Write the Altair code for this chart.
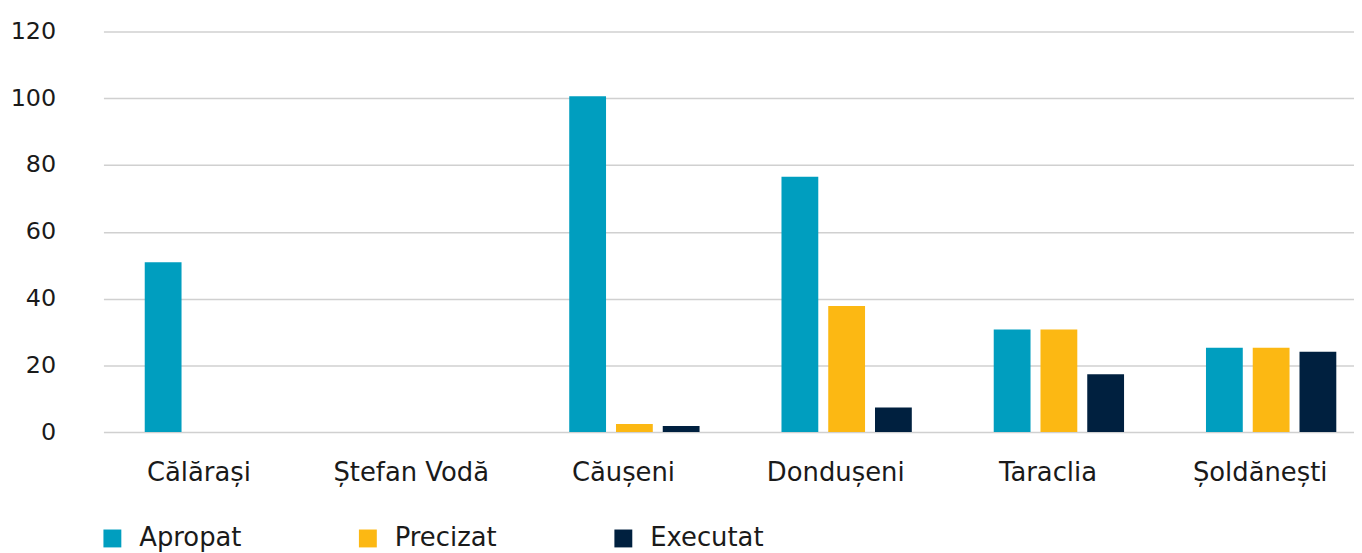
import altair as alt
import pandas as pd

categories = ["Călărași", "Ștefan Vodă", "Căușeni", "Dondușeni", "Taraclia", "Șoldănești"]
series = ["Apropat", "Precizat", "Executat"]
apropat = [50.9, 0, 100.6, 76.5, 30.7, 25.3]
precizat = [0, 0, 2.4, 37.8, 30.7, 25.3]
executat = [0, 0, 1.8, 7.4, 17.3, 24.1]
colors = ["#009EBF", "#FCB813", "#00203F"]
y_ticks = [0, 20, 40, 60, 80, 100, 120]

rows = []
for name, vals in zip(series, [apropat, precizat, executat]):
    for c, v in zip(categories, vals):
        rows.append({"Raion": c, "Serie": name, "Valoare": v})
df = pd.DataFrame(rows)

FONT = "DejaVu Sans"

chart = alt.Chart(df).mark_bar().encode(
    x=alt.X("Raion:N", sort=categories, title=None,
            scale=alt.Scale(paddingInner=0.386, paddingOuter=0.139, align=0.7),
            axis=alt.Axis(labelAngle=0, labelFontSize=26, labelFont=FONT, labelColor="#1a1a1a",
                          labelPadding=28, labelOffset=-11, ticks=False, domain=False, grid=False)),
    xOffset=alt.XOffset("Serie:N", sort=series,
                        scale=alt.Scale(paddingInner=0.213, paddingOuter=0)),
    y=alt.Y("Valoare:Q", title=None,
            scale=alt.Scale(domain=[0, 120], nice=False),
            axis=alt.Axis(values=y_ticks, labelFontSize=24, labelFont=FONT, labelColor="#1a1a1a",
                          labelPadding=48, ticks=False, domain=False,
                          grid=True, gridColor="#d0d0d0", gridWidth=1.5)),
    color=alt.Color("Serie:N", sort=series,
                    scale=alt.Scale(domain=series, range=colors),
                    legend=alt.Legend(title=None, orient="none", legendX=-4, legendY=497,
                                      direction="horizontal", symbolType="square",
                                      symbolSize=324, symbolStrokeWidth=0,
                                      labelFontSize=26, labelFont=FONT, labelColor="#1a1a1a",
                                      labelOffset=14, columnPadding=114, padding=0)),
).properties(
    width=1258, height=403,
    autosize=alt.AutoSizeParams(type="none"),
    padding={"left": 96, "top": 22, "right": 0, "bottom": 120},
).configure_view(stroke=None)

chart.save("out.html", embed_options={"renderer": "svg", "actions": False})
